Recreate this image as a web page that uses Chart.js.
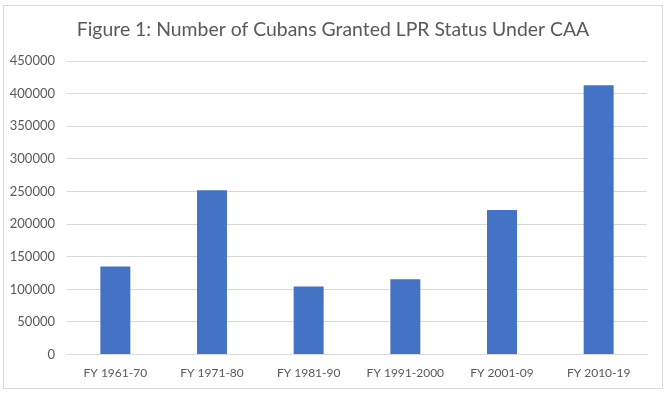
<!DOCTYPE html>
<html>
<head>
<meta charset="utf-8">
<script src="https://cdn.jsdelivr.net/npm/chart.js"></script>
<style>
  html, body { margin: 0; padding: 0; background: #ffffff; }
  #wrap { position: relative; width: 668px; height: 394px; }
</style>
</head>
<body>
<div id="wrap"><canvas id="lprChart" width="668" height="394"></canvas></div>
<script>
const categories = ['FY 1961-70', 'FY 1971-80', 'FY 1981-90', 'FY 1991-2000', 'FY 2001-09', 'FY 2010-19'];
const granted = [135000, 252000, 104500, 115500, 221500, 413000];
const yTicks = [0, 50000, 100000, 150000, 200000, 250000, 300000, 350000, 400000, 450000];
const chartTitle = 'Figure 1: Number of Cubans Granted LPR Status Under CAA';

const textGrey = '#595959';
const gridGrey = '#d9d9d9';

// light frame round the whole chart, plus the title centred on the frame
const framePlugin = {
	id: 'frame',
	afterDraw(chart){
		const c = chart.ctx;
		c.save();
		c.strokeStyle = gridGrey;
		c.lineWidth = 1;
		c.strokeRect(3.5, 5.5, 659, 383);
		c.fillStyle = textGrey;
		c.font = '19.4px Lato';
		c.textAlign = 'center';
		c.textBaseline = 'middle';
		c.fillText(chartTitle, 333, 30);
		c.restore();
	}
};

const ctx = document.getElementById('lprChart').getContext('2d');
new Chart(ctx, {
	type: 'bar',
	data: {
		labels: categories,
		datasets: [{
			label: 'Cubans granted LPR status',
			data: granted,
			backgroundColor: '#4472C4',
			categoryPercentage: 1,
			barPercentage: 0.31
		}]
	},
	options: {
		responsive: false,
		animation: false,
		layout: { padding: { left: 5, right: 21, top: 61, bottom: 3 } },
		plugins: {
			legend: { display: false },
			tooltip: { enabled: false },
			title: { display: false }
		},
		scales: {
			x: {
				grid: { display: false, drawTicks: false },
				border: { display: true, color: gridGrey },
				ticks: { color: textGrey, font: { family: 'Lato', size: 12 }, padding: 11, maxRotation: 0 }
			},
			y: {
				min: 0,
				max: 450000,
				afterFit(scale){ scale.width = 62; },
				afterBuildTicks(scale){ scale.ticks = yTicks.map(v => ({ value: v })); },
				grid: { color: gridGrey, drawTicks: false },
				border: { display: false },
				ticks: { color: textGrey, font: { family: 'Lato', size: 13 }, padding: 12, callback: v => String(v) }
			}
		}
	},
	plugins: [framePlugin]
});
</script>
</body>
</html>
